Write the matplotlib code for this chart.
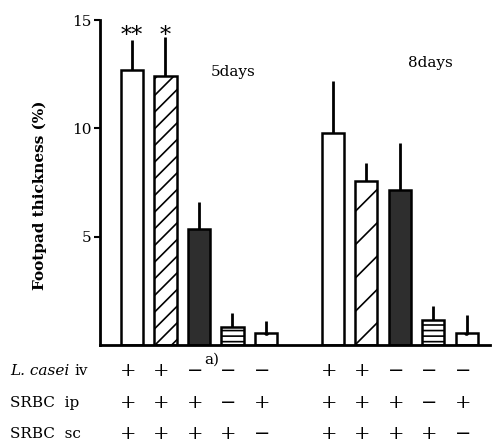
import numpy as np
import matplotlib.pyplot as plt
import matplotlib.transforms as mtransforms

plt.rcParams['font.family'] = ['DejaVu Serif']
plt.rcParams['hatch.linewidth'] = 1.2

# bar data (footpad thickness %, mean and upper error)
pos = [0, 1, 2, 3, 4, 6, 7, 8, 9, 10]
means = [12.7, 12.4, 5.35, 0.85, 0.55, 9.8, 7.55, 7.15, 1.15, 0.55]
err_top = [14.1, 14.2, 6.6, 1.5, 1.1, 12.2, 8.4, 9.3, 1.8, 1.4]
colors = ['white', 'white', '#2e2e2e', 'white', 'white'] * 2
hatches = [None, '//', None, '---', '.', None, '/', None, '---', '.']

casei_iv = ['+', '+', '−', '−', '−', '+', '+', '−', '−', '−']
srbc_ip = ['+', '+', '+', '−', '+', '+', '+', '+', '−', '+']
srbc_sc = ['+', '+', '+', '+', '−', '+', '+', '+', '+', '−']
stars = {0: '**', 1: '*'}

fig = plt.figure(figsize=(4.92, 4.42), dpi=100)
ax = fig.add_axes([100/492, 97/442, 390/492, 325/442])

for x, m, e, c, h in zip(pos, means, err_top, colors, hatches):
    ax.vlines(x, m, e, color='black', lw=2, zorder=1)
    ax.bar(x, m, width=0.66, color=c, hatch=h, edgecolor='black',
           linewidth=1.8, zorder=2)

for i, txt in stars.items():
    ax.text(pos[i], 13.75, txt, ha='center', va='bottom', fontsize=16,
            clip_on=False)

ax.text(2.35, 12.6, '5days', fontsize=11, va='center')
ax.text(8.25, 13.0, '8days', fontsize=11, va='center')

ax.set_xlim(-0.955, 10.69)
ax.set_ylim(0, 15)
ax.set_yticks([5, 10, 15])
ax.set_yticklabels(['5', '10', '15'], fontsize=11)
ax.set_xticks([])
ax.spines['top'].set_visible(False)
ax.spines['right'].set_visible(False)
ax.spines['left'].set_linewidth(2)
ax.spines['bottom'].set_linewidth(2)
ax.tick_params(axis='y', direction='out', length=4, width=1.5, pad=2)

fig.text(40/492, 1 - 195/442, 'Footpad thickness (%)', rotation=90,
         ha='center', va='center', fontsize=11, fontweight='bold')

# sign table under the bars
trans = mtransforms.blended_transform_factory(ax.transData, fig.transFigure)
rows = [casei_iv, srbc_ip, srbc_sc]
row_y = [1 - 371/442, 1 - 403/442, 1 - 434/442]
for signs, y in zip(rows, row_y):
    for x, sg in zip(pos, signs):
        ax.text(x - 0.12, y, sg, transform=trans, ha='center', va='center',
                fontsize=14, clip_on=False)

ax.text(2.15, 1 - 360/442, 'a)', transform=trans, ha='left', va='center',
        fontsize=11, clip_on=False)

fig.text(10/492, row_y[0], 'L. casei', style='italic', fontsize=11, va='center')
fig.text(74/492, row_y[0], 'iv', fontsize=11, va='center')
fig.text(10/492, row_y[1], 'SRBC  ip', fontsize=11, va='center')
fig.text(10/492, row_y[2], 'SRBC  sc', fontsize=11, va='center')

fig.savefig('out.png', dpi=100)
